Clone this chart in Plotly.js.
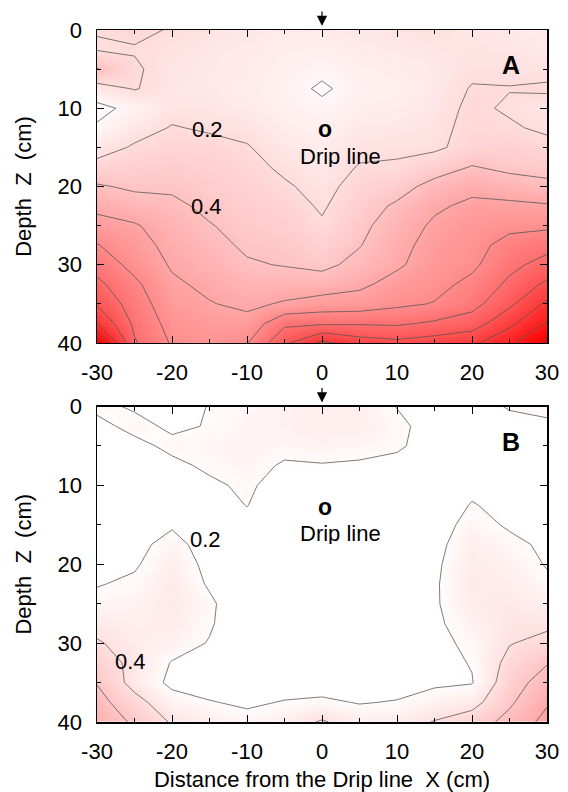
<!DOCTYPE html>
<html>
<head>
<meta charset="utf-8">
<script src="https://cdn.plot.ly/plotly-3.0.1.min.js"></script>
<style>html,body{margin:0;padding:0;background:#fff;}</style>
</head>
<body>
<div id="chart" style="width:568px;height:792px;"></div>
<script>
// Distance from drip line X (cm)
const xDist = [-30,-25,-20,-15,-10,-5,0,5,10,15,20,25,30];
// Depth Z (cm)
const zDepth = [0,2.5,5,7.5,10,12.5,15,17.5,20,22.5,25,27.5,30,32.5,35,37.5,40];

// Panel A: one column of values per X position (top to bottom in depth)
const panelA = [
  [0.205,0.19,0.41,0.12,-0.05,0.02,0.12,0.26,0.42,0.55,0.67,0.81,0.92,1.05,1.18,1.4,1.85],
  [0.23,0.19,0.22,0.21,0.05,0.13,0.22,0.3,0.37,0.48,0.62,0.68,0.74,0.84,0.9,0.96,1.02],
  [0.19,0.16,0.14,0.13,0.15,0.21,0.26,0.31,0.37,0.44,0.5,0.54,0.58,0.63,0.68,0.73,0.78],
  [0.15,0.13,0.12,0.12,0.14,0.18,0.25,0.29,0.32,0.36,0.41,0.46,0.51,0.56,0.61,0.67,0.72],
  [0.13,0.11,0.1,0.09,0.11,0.16,0.21,0.25,0.28,0.31,0.34,0.37,0.42,0.49,0.56,0.66,0.79],
  [0.1,0.08,0.06,0.05,0.06,0.09,0.13,0.17,0.22,0.27,0.31,0.35,0.39,0.5,0.62,0.96,1.16],
  [0.1,0.07,0.03,-0.02,0.03,0.06,0.09,0.12,0.15,0.18,0.22,0.28,0.35,0.5,0.68,0.97,1.45],
  [0.13,0.1,0.07,0.05,0.08,0.12,0.16,0.21,0.26,0.31,0.35,0.39,0.46,0.56,0.69,0.98,1.3],
  [0.15,0.12,0.09,0.07,0.09,0.13,0.17,0.22,0.32,0.43,0.5,0.54,0.57,0.67,0.76,0.97,1.25],
  [0.16,0.14,0.12,0.12,0.14,0.16,0.17,0.3,0.47,0.57,0.63,0.67,0.7,0.74,0.81,1.03,1.3],
  [0.14,0.15,0.17,0.21,0.23,0.24,0.26,0.41,0.55,0.64,0.7,0.73,0.76,0.85,0.93,1.1,1.36],
  [0.12,0.14,0.17,0.205,0.18,0.22,0.28,0.35,0.5,0.64,0.75,0.87,0.95,1.04,1.16,1.35,1.56],
  [0.1,0.12,0.16,0.22,0.14,0.17,0.25,0.33,0.45,0.62,0.76,0.94,1.07,1.24,1.44,1.62,1.85]
];

// Panel B: one column of values per X position
const panelB = [
  [0.24,0.15,0.12,0.1,0.09,0.1,0.11,0.13,0.16,0.19,0.25,0.33,0.42,0.5,0.59,0.67,0.73],
  [0.18,0.25,0.15,0.11,0.1,0.1,0.12,0.15,0.18,0.23,0.27,0.3,0.32,0.35,0.33,0.47,0.57],
  [0.1,0.17,0.24,0.16,0.12,0.13,0.18,0.26,0.31,0.33,0.34,0.32,0.28,0.19,0.16,0.27,0.38],
  [0.21,0.21,0.25,0.23,0.17,0.12,0.1,0.12,0.15,0.18,0.23,0.22,0.19,0.14,0.12,0.21,0.3],
  [0.24,0.26,0.27,0.26,0.23,0.205,0.15,0.1,0.08,0.07,0.07,0.07,0.08,0.09,0.11,0.17,0.26],
  [0.27,0.28,0.25,0.18,0.12,0.08,0.06,0.05,0.04,0.04,0.04,0.05,0.06,0.08,0.12,0.21,0.3],
  [0.3,0.3,0.27,0.19,0.12,0.08,0.05,0.04,0.03,0.03,0.03,0.04,0.05,0.08,0.12,0.23,0.42],
  [0.3,0.29,0.25,0.18,0.12,0.08,0.05,0.04,0.04,0.04,0.04,0.05,0.06,0.08,0.11,0.19,0.3],
  [0.195,0.24,0.23,0.14,0.09,0.06,0.05,0.04,0.04,0.04,0.04,0.05,0.06,0.09,0.13,0.21,0.31],
  [0.15,0.13,0.11,0.1,0.09,0.1,0.12,0.15,0.17,0.18,0.18,0.17,0.15,0.14,0.17,0.28,0.41],
  [0.15,0.14,0.13,0.13,0.16,0.21,0.26,0.3,0.32,0.33,0.32,0.28,0.24,0.21,0.19,0.33,0.5],
  [0.21,0.16,0.13,0.12,0.13,0.15,0.18,0.24,0.28,0.31,0.34,0.37,0.39,0.46,0.52,0.57,0.66],
  [0.24,0.17,0.14,0.12,0.12,0.13,0.15,0.17,0.19,0.23,0.29,0.36,0.46,0.59,0.68,0.78,0.86]
];

const xTickVals = [-30,-20,-10,0,10,20,30];
const xTickText = ['-30','-20','-10','0','10','20','30'];
const zTickVals = [0,10,20,30,40];
const zTickText = ['0','10','20','30','40'];
const panelLabels = ['A','B'];
const contourLabelsA = [{x:-15.3, z:12.7, t:'0.2'}, {x:-15.4, z:22.6, t:'0.4'}];
const contourLabelsB = [{x:-15.5, z:16.9, t:'0.2'}, {x:-25.6, z:32.3, t:'0.4'}];

function toRows(cols){ return zDepth.map((_, i) => cols.map(c => c[i])); }

const NB = '\u00a0';
const baseFont = 'Liberation Sans, Arial, Helvetica, sans-serif';
const FS = 22;
const redScale = [[0,'rgb(255,255,255)'],[1,'rgb(255,0,0)']];

function contourTrace(cols, xa, ya, zmin, zmax){
  return {
    type:'contour', x:xDist, y:zDepth, z:toRows(cols), xaxis:xa, yaxis:ya,
    zmin:zmin, zmax:zmax, colorscale:redScale, showscale:false,
    autocontour:false,
    contours:{start:0, end:2, size:0.2, coloring:'heatmap', showlabels:false},
    line:{color:'#555555', width:0.8, smoothing:0},
    hoverinfo:'skip'
  };
}

const traces = [
  contourTrace(panelA, 'x', 'y', -0.05, 1.8),
  contourTrace(panelB, 'x2', 'y2', 0.18, 2.0)
];

function xAxis(anchor, title){
  const ax = {
    anchor:anchor, domain:[0,1], range:[-30,30], tickmode:'array', tickvals:xTickVals, ticktext:xTickText,
    ticks:'inside', ticklen:7, tickwidth:1, tickcolor:'#000', ticklabelstandoff:9,
    minor:{dtick:5, tick0:0, ticks:'inside', ticklen:4, tickwidth:1, tickcolor:'#000'},
    showline:true, linecolor:'#000', linewidth:1.5, mirror:'allticks',
    showgrid:false, zeroline:false, tickfont:{size:FS, family:baseFont, color:'#000'}
  };
  if (title) ax.title = {text:title, font:{size:FS, family:baseFont, color:'#000'}, standoff:8};
  return ax;
}
function yAxis(anchor, domain){
  return {
    anchor:anchor, domain:domain, range:[40,0], tickmode:'array', tickvals:zTickVals, ticktext:zTickText,
    ticks:'inside', ticklen:7, tickwidth:1, tickcolor:'#000', ticklabelstandoff:9,
    minor:{dtick:5, tick0:0, ticks:'inside', ticklen:4, tickwidth:1, tickcolor:'#000'},
    showline:true, linecolor:'#000', linewidth:1.5, mirror:'allticks',
    showgrid:false, zeroline:false, tickfont:{size:FS, family:baseFont, color:'#000'},
    title:{text:'Depth'+NB+NB+'Z'+NB+NB+'(cm)', font:{size:FS, family:baseFont, color:'#000'}, standoff:20}
  };
}

const annotations = [];
[['x','y',contourLabelsA,panelLabels[0]],['x2','y2',contourLabelsB,panelLabels[1]]].forEach(([xa,ya,labs,pl]) => {
  labs.forEach(l => annotations.push({x:l.x, y:l.z, xref:xa, yref:ya, text:l.t, showarrow:false,
    font:{size:FS, family:baseFont, color:'#000'}}));
  annotations.push({x:25.2, y:4.5, xref:xa, yref:ya, text:'<b>'+pl+'</b>', showarrow:false,
    font:{size:25, family:baseFont, color:'#000'}});
  annotations.push({x:0.4, y:12.7, xref:xa, yref:ya, text:'<b>o</b>', showarrow:false,
    font:{size:23, family:baseFont, color:'#000'}, yanchor:'middle', height:18, valign:'middle'});
  annotations.push({x:2.4, y:16.1, xref:xa, yref:ya, text:'Drip line', showarrow:false,
    font:{size:FS, family:baseFont, color:'#000'}, height:22});
  annotations.push({x:0, y:0, xref:xa, yref:ya, text:'', showarrow:true, ax:0, ay:-20,
    arrowhead:2, arrowsize:1.7, arrowwidth:1.2, arrowcolor:'#000', standoff:4});
});

const layout = {
  width:568, height:792,
  margin:{l:97, r:21, t:30, b:70, pad:0},
  paper_bgcolor:'#fff', plot_bgcolor:'#fff', showlegend:false,
  font:{family:baseFont, size:FS, color:'#000'},
  xaxis:xAxis('y', null),
  yaxis:yAxis('x', [0.5477, 1]),
  xaxis2:xAxis('y2', 'Distance from the Drip line'+NB+NB+'X (cm)'),
  yaxis2:yAxis('x2', [0, 0.4559]),
  annotations:annotations
};

Plotly.newPlot('chart', traces, layout, {staticPlot:true, displayModeBar:false});
</script>
</body>
</html>
